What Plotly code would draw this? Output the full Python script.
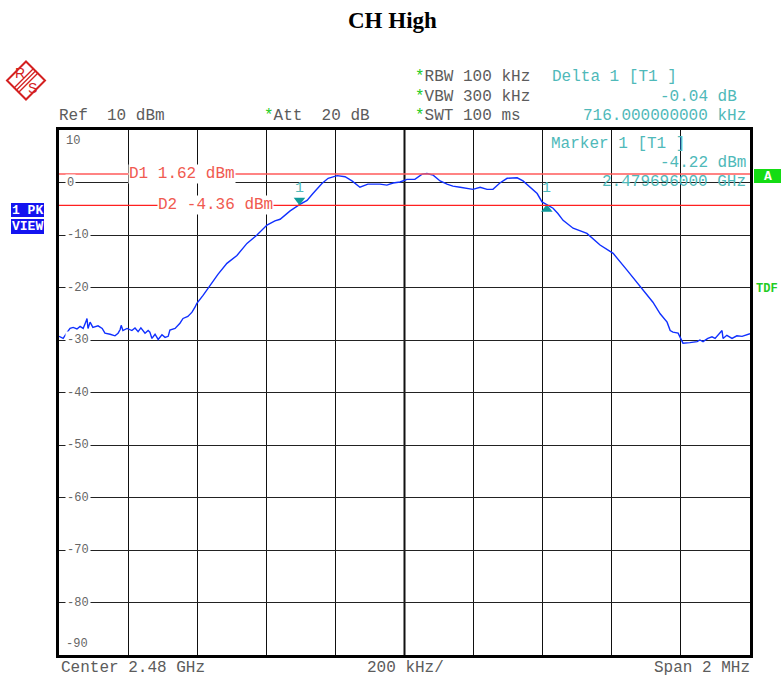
import plotly.graph_objects as go

# ---------------- data ----------------
START_GHZ = 2.479
SPAN_GHZ = 0.002
freq_offset_khz = [0, 12, 23, 32, 41, 52, 61, 70, 78, 81, 84, 90, 98, 113, 125, 133,
                   148, 162, 171, 177, 180, 185, 197, 211, 220, 229, 237, 249, 258,
                   263, 269, 278, 287, 298, 307, 316, 321, 336, 350, 359, 373, 385,
                   394, 399, 417, 437, 460, 486, 515, 544, 573, 602, 625, 640, 669,
                   696, 718, 735, 750, 761, 779, 805, 828, 848, 871, 894, 929, 949,
                   967, 987, 1007, 1030, 1051, 1065, 1083, 1103, 1123, 1140, 1161,
                   1198, 1219, 1239, 1256, 1276, 1297, 1326, 1343, 1363, 1384, 1398,
                   1412, 1430, 1444, 1459, 1488, 1528, 1566, 1604, 1644, 1682, 1702,
                   1719, 1740, 1760, 1769, 1777, 1792, 1803, 1806, 1826, 1847, 1855,
                   1864, 1878, 1890, 1899, 1913, 1919, 1922, 1933, 1948, 1962, 1977,
                   1991, 2000]
level_dbm = [-29.3, -29.7, -28.6, -27.8, -27.6, -27.9, -27.4, -27.8, -26.5, -25.9,
             -27.8, -26.6, -27.6, -27.3, -27.8, -28.7, -28.9, -29.2, -28.7, -28.0,
             -27.2, -28.2, -27.8, -28.2, -27.7, -28.4, -27.7, -28.7, -28.2, -28.5,
             -29.7, -28.9, -29.9, -29.0, -29.5, -29.3, -28.1, -27.8, -26.8, -25.9,
             -25.5, -24.7, -23.7, -23.0, -21.5, -19.6, -17.5, -15.4, -13.9, -11.6,
             -10.0, -8.1, -7.3, -7.0, -5.4, -4.22, -3.4, -2.1, -0.9, -0.2, 0.8,
             1.3, 1.1, 0.3, -0.9, -0.3, -0.3, -0.5, -0.1, 0.1, 0.6, 0.6, 1.6, 1.7,
             1.4, 0.3, -0.3, -0.7, -0.9, -1.3, -0.9, -1.3, -1.3, -0.1, 0.8, 0.9,
             0.3, -0.9, -2.1, -3.7, -4.26, -4.9, -5.9, -7.2, -8.7, -9.7, -11.9,
             -13.5, -16.7, -19.9, -21.5, -22.8, -25.0, -26.6, -28.2, -28.5, -28.7,
             -30.0, -30.6, -30.5, -30.3, -30.0, -30.3, -29.7, -29.4, -29.7, -28.7,
             -28.2, -29.7, -29.1, -29.7, -29.2, -29.3, -29.0, -28.8]

y_tick_values = [10, 0, -10, -20, -30, -40, -50, -60, -70, -80, -90]
y_tick_labels = ["10", "0", "-10", "-20", "-30", "-40", "-50", "-60", "-70", "-80", "-90"]

marker1_freq_ghz = 2.479696
marker1_level_dbm = -4.22
delta1_offset_khz = 716.0
delta1_rel_db = -0.04
d1_level_dbm = 1.62
d2_level_dbm = -4.36

title_text = "CH High"
header_left = ["Ref  10 dBm"]
setting_rows = ["RBW 100 kHz", "VBW 300 kHz", "SWT 100 ms"]
att_text = "Att  20 dB"
footer = ["Center 2.48 GHz", "200 kHz/", "Span 2 MHz"]

# ---------------- geometry helpers ----------------
W, H = 781, 680
L, R, T, B = 59, 31, 130, 25
PW, PH = W - L - R, H - T - B


def px(x):
    return (x - L) / PW


def py(y):
    return (H - B - y) / PH


MONO = "Liberation Mono, Courier New, monospace"
GRAY = "#5c5c5c"
CYAN = "#4fb9b9"
GREEN = "#22cc22"
BLUE_BOX = "#1414f0"
TEAL = "#0f9a9a"

freq_ghz = [START_GHZ + f / 1e6 for f in freq_offset_khz]
delta1_freq_ghz = marker1_freq_ghz + delta1_offset_khz / 1e6
delta1_level_dbm = marker1_level_dbm + delta1_rel_db

fig = go.Figure()
fig.add_trace(go.Scatter(x=freq_ghz, y=level_dbm, mode="lines",
                         line=dict(color="#1030ff", width=1.4), hoverinfo="skip"))
# markers
fig.add_trace(go.Scatter(x=[marker1_freq_ghz], y=[marker1_level_dbm + 0.85], mode="markers",
                         marker=dict(symbol="triangle-down", size=10, color=TEAL)))
fig.add_trace(go.Scatter(x=[delta1_freq_ghz], y=[delta1_level_dbm - 0.85], mode="markers",
                         marker=dict(symbol="triangle-up", size=10, color=TEAL)))

shapes = []
# display lines
shapes.append(dict(type="line", xref="paper", x0=0, x1=1, y0=d1_level_dbm, y1=d1_level_dbm,
                   line=dict(color="#ff5a5a", width=1.6)))
shapes.append(dict(type="line", xref="paper", x0=0, x1=1, y0=d2_level_dbm, y1=d2_level_dbm,
                   line=dict(color="#ff2020", width=1.4)))
# thicker centre line
shapes.append(dict(type="line", x0=START_GHZ + SPAN_GHZ / 2, x1=START_GHZ + SPAN_GHZ / 2,
                   yref="paper", y0=0, y1=1, line=dict(color="#111111", width=2), layer="below"))

# R&S logo
cx, cy, hd = 26, 80.5, 19
diamond = "M {} {} L {} {} L {} {} L {} {} Z".format(
    px(cx), py(cy - hd), px(cx + hd), py(cy), px(cx), py(cy + hd), px(cx - hd), py(cy))
shapes.append(dict(type="path", xref="paper", yref="paper", path=diamond,
                   line=dict(color="#d42020", width=2)))
for off in (-2.2, 0, 2.2):
    shapes.append(dict(type="line", xref="paper", yref="paper",
                       x0=px(cx + 10 + off), y0=py(cy - 10 + off),
                       x1=px(cx - 10 + off), y1=py(cy + 10 + off),
                       line=dict(color="#d42020", width=1.3)))
# blue boxes
shapes.append(dict(type="rect", xref="paper", yref="paper", x0=px(11), x1=px(44),
                   y0=py(217), y1=py(203), fillcolor=BLUE_BOX, line=dict(width=0)))
shapes.append(dict(type="rect", xref="paper", yref="paper", x0=px(11), x1=px(44),
                   y0=py(234), y1=py(219), fillcolor=BLUE_BOX, line=dict(width=0)))
# green A box
shapes.append(dict(type="rect", xref="paper", yref="paper", x0=px(754), x1=px(781),
                   y0=py(183), y1=py(169), fillcolor="#14dc14", line=dict(width=0)))

ann = []


def text(x, y, s, color=GRAY, size=16, anchor="left", family=MONO, bg=None, pad=0, dy=2):
    d = dict(xref="paper", yref="paper", x=px(x), y=py(y + dy), text=s, showarrow=False,
             xanchor=anchor, yanchor="middle", font=dict(family=family, size=size, color=color),
             borderpad=pad)
    if bg:
        d["bgcolor"] = bg
    ann.append(d)


text(392, 20, "<b>" + title_text + "</b>", color="#000000", size=23, anchor="center",
     family="Liberation Serif, Times New Roman, serif", dy=0)
text(19.5, 73, "R", color="#d42020", size=14, anchor="center", family="Liberation Sans", dy=0)
text(32, 88, "S", color="#d42020", size=14, anchor="center", family="Liberation Sans", dy=0)

star = "<span style='color:%s'>*</span>" % GREEN
for i, row in enumerate(setting_rows):
    text(414, 75 + i * 19.5, star + row)
text(58, 114, header_left[0])
text(263, 114, star + att_text)
text(551, 75, "Delta 1 [T1 ]", color=CYAN)
text(738, 95, "%.2f dB" % delta1_rel_db, color=CYAN, anchor="right")
text(747, 114, "%.9f kHz" % delta1_offset_khz, color=CYAN, anchor="right")
text(550, 142, "Marker 1 [T1 ]", color=CYAN)
text(747, 161, "%.2f dBm" % marker1_level_dbm, color=CYAN, anchor="right")
text(747, 180, "%.9f GHz" % marker1_freq_ghz, color=CYAN, anchor="right")

text(128, 172.5, "D1 %.2f dBm" % d1_level_dbm, color="#f05a50", bg="white", dy=1)
text(157, 204, "D2 %.2f dBm" % d2_level_dbm, color="#f05a50", bg="white", dy=1)

# marker labels (data coords)
for f in (marker1_freq_ghz, delta1_freq_ghz):
    ann.append(dict(x=f, y=marker1_level_dbm, text="1", showarrow=False, yshift=16,
                    font=dict(family=MONO, size=15, color=CYAN)))

text(27.5, 210, "<b>1 PK</b>", color="white", size=13, anchor="center", dy=0)
text(27.5, 226.5, "<b>VIEW</b>", color="white", size=13, anchor="center", dy=0)
text(767.5, 176, "<b>A</b>", color="white", size=13, anchor="center", dy=0)
text(767, 289, "<b>TDF</b>", color=GREEN, size=12, anchor="center", dy=0)

# y tick labels inside the plot, breaking the gridlines
for v, lab in zip(y_tick_values, y_tick_labels):
    if v == 10:
        text(65, 140, lab, color="#666666", size=12, dy=1)
    elif v == -90:
        text(65, 643, lab, color="#666666", size=12, dy=1)
    else:
        ann.append(dict(xref="paper", x=px(65), y=v, text=lab, showarrow=False,
                        xanchor="left", yanchor="middle", bgcolor="white", borderpad=1,
                        font=dict(family=MONO, size=12, color="#666666")))

text(60, 667, footer[0], dy=1)
text(405, 667, footer[1], anchor="center", dy=1)
text(751, 667, footer[2], anchor="right", dy=1)

fig.update_layout(
    width=W, height=H, margin=dict(l=L, r=R, t=T, b=B),
    paper_bgcolor="white", plot_bgcolor="white", showlegend=False,
    shapes=shapes, annotations=ann,
    xaxis=dict(range=[START_GHZ, START_GHZ + SPAN_GHZ], tick0=START_GHZ, dtick=SPAN_GHZ / 10,
               showgrid=True, gridcolor="#111111", gridwidth=1, zeroline=False,
               showticklabels=False, ticks="", showline=True, mirror=True,
               linecolor="#000000", linewidth=2.5, fixedrange=True),
    yaxis=dict(range=[-90, 10], tick0=0, dtick=10, showgrid=True, gridcolor="#222222",
               gridwidth=1, zeroline=False, showticklabels=False, ticks="", showline=True,
               mirror=True, linecolor="#000000", linewidth=2.5, fixedrange=True),
)

fig.write_html("out.html", config={"displayModeBar": False},
               post_script="document.body.style.margin='0';document.body.style.overflow='hidden';")
